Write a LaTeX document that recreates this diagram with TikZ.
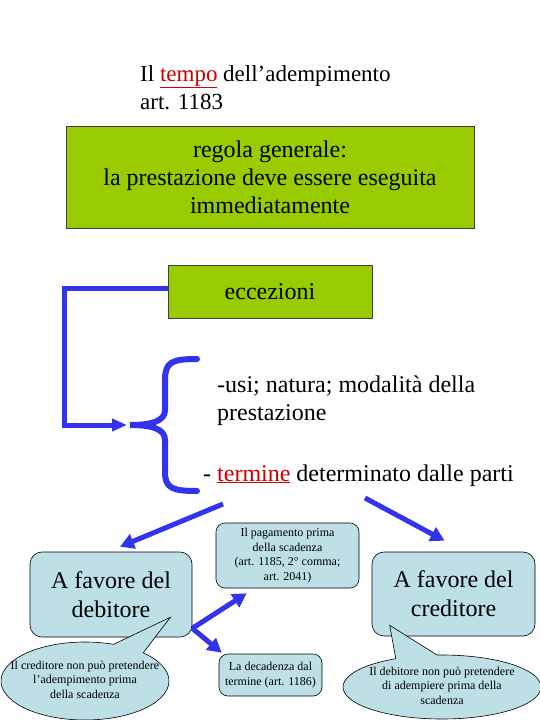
\documentclass[tikz,border=0pt]{standalone}
\usepackage{fontspec}
\setmainfont{Liberation Serif}
\usetikzlibrary{positioning, shapes.geometric, shapes.callouts, arrows.meta}

\definecolor{verde}{RGB}{153,204,0}
\definecolor{azzurro}{RGB}{188,224,230}
\definecolor{blu}{RGB}{51,51,238}
\definecolor{rosso}{RGB}{204,0,0}
\definecolor{bordo}{RGB}{60,60,80}

\newcommand{\piatto}[1]{\makebox[0pt]{\begin{tabular}{@{}c@{}}#1\end{tabular}}}

\begin{document}
\begin{tikzpicture}[
    x=1pt, y=-1pt,
    grande/.style={font=\fontsize{24}{28}\selectfont},
    regola/.style={rectangle, draw=bordo, line width=0.8pt, fill=verde, align=center, inner sep=0pt, grande},
    favore/.style={rectangle, rounded corners=12pt, draw=black, line width=0.6pt, fill=azzurro, align=center, inner sep=0pt, font=\fontsize{24}{29}\selectfont},
    nota/.style={rectangle, rounded corners=9pt, draw=black, line width=0.6pt, fill=azzurro, align=center, inner sep=0pt, font=\fontsize{12}{14.5}\selectfont},
    fumetto/.style={ellipse callout, draw=black, line width=0.6pt, fill=azzurro, inner sep=0pt, callout pointer arc=24, font=\fontsize{12}{14.5}\selectfont},
    freccia/.style={draw=blu, line width=5pt, -{Triangle[length=14pt, width=15pt]}},
    graffa/.style={draw=blu, line width=6pt, line cap=round}
]

\path[use as bounding box, fill=white] (0,0) rectangle (540,720);

% Titolo e regola generale
\node[font=\fontsize{23}{28}\selectfont, align=left, inner sep=0pt, anchor=north west] (titolo) at (140,65) {Il {\color{rosso}\underline{tempo}} dell’adempimento\\art. 1183};
\node[regola, minimum width=408pt, minimum height=102pt] (regola) at (270,177) {regola generale:\\la prestazione deve essere eseguita\\immediatamente};
\node[regola, minimum width=204pt, minimum height=53pt] (eccez) at (270,291.5) {eccezioni};

% Elenco delle eccezioni
\node[grande, align=left, inner sep=0pt, anchor=west] (usi) at (217,401) {-usi; natura; modalità della\\prestazione};
\node[grande, inner sep=0pt, anchor=base west] (termine) at (203,481) {- {\color{rosso}\underline{termine}} determinato dalle parti};

% Graffa e collegamento
\coordinate (punta) at (130,425);
\draw[graffa] (197,359) .. controls (172,359) and (165,362) .. (165,380) -- (165,410) .. controls (165,421) and (152,425) .. (punta) .. controls (152,425) and (165,429) .. (165,440) -- (165,472) .. controls (165,488) and (172,491) .. (197,491);
\draw[freccia, -{Triangle[length=15pt, width=12pt]}] ([yshift=3pt]eccez.west) -- ++(-103,0) |- ([xshift=-3pt]punta);

% Caselle in basso
\node[favore, minimum width=162pt, minimum height=85pt] (debitore) at (111,594.5) {A favore del\\debitore};
\node[favore, minimum width=163pt, minimum height=84pt] (creditore) at (453.5,594) {A favore del\\creditore};
\node[nota, minimum width=143pt, minimum height=65pt] (pagamento) at (287.5,555.5) {Il pagamento prima\\della scadenza\\(art. 1185, 2° comma;\\art. 2041)};
\node[nota, minimum width=103pt, minimum height=42pt] (decadenza) at (270.5,675) {La decadenza dal\\termine (art. 1186)};

% Fumetti
\node[fumetto, minimum width=168pt, minimum height=78pt, callout absolute pointer={([shift={(-22pt,20pt)}]debitore.south east)}] (nota_deb) at (85,681) {\piatto{Il creditore non può pretendere\\l’adempimento prima\\della scadenza}};
\node[fumetto, callout pointer arc=25, minimum width=198pt, minimum height=64pt, callout absolute pointer={([shift={(18pt,11pt)}]creditore.south west)}] (nota_cred) at (442,687) {\piatto{Il debitore non può pretendere\\di adempiere prima della\\scadenza}};

% Frecce
\coordinate (da_sx) at (223,504);
\coordinate (da_dx) at (365,498);
\draw[freccia] (da_sx) -- ([shift={(9pt,5pt)}]debitore.north);
\draw[freccia] (da_dx) -- ([shift={(-9pt,11pt)}]creditore.north);
\draw[freccia] ([yshift=9pt]debitore.south east) -- ([shift={(31pt,-5pt)}]pagamento.south west);
\draw[freccia] ([yshift=9pt]debitore.south east) -- ([shift={(3pt,1pt)}]decadenza.north west);

\end{tikzpicture}
\end{document}
